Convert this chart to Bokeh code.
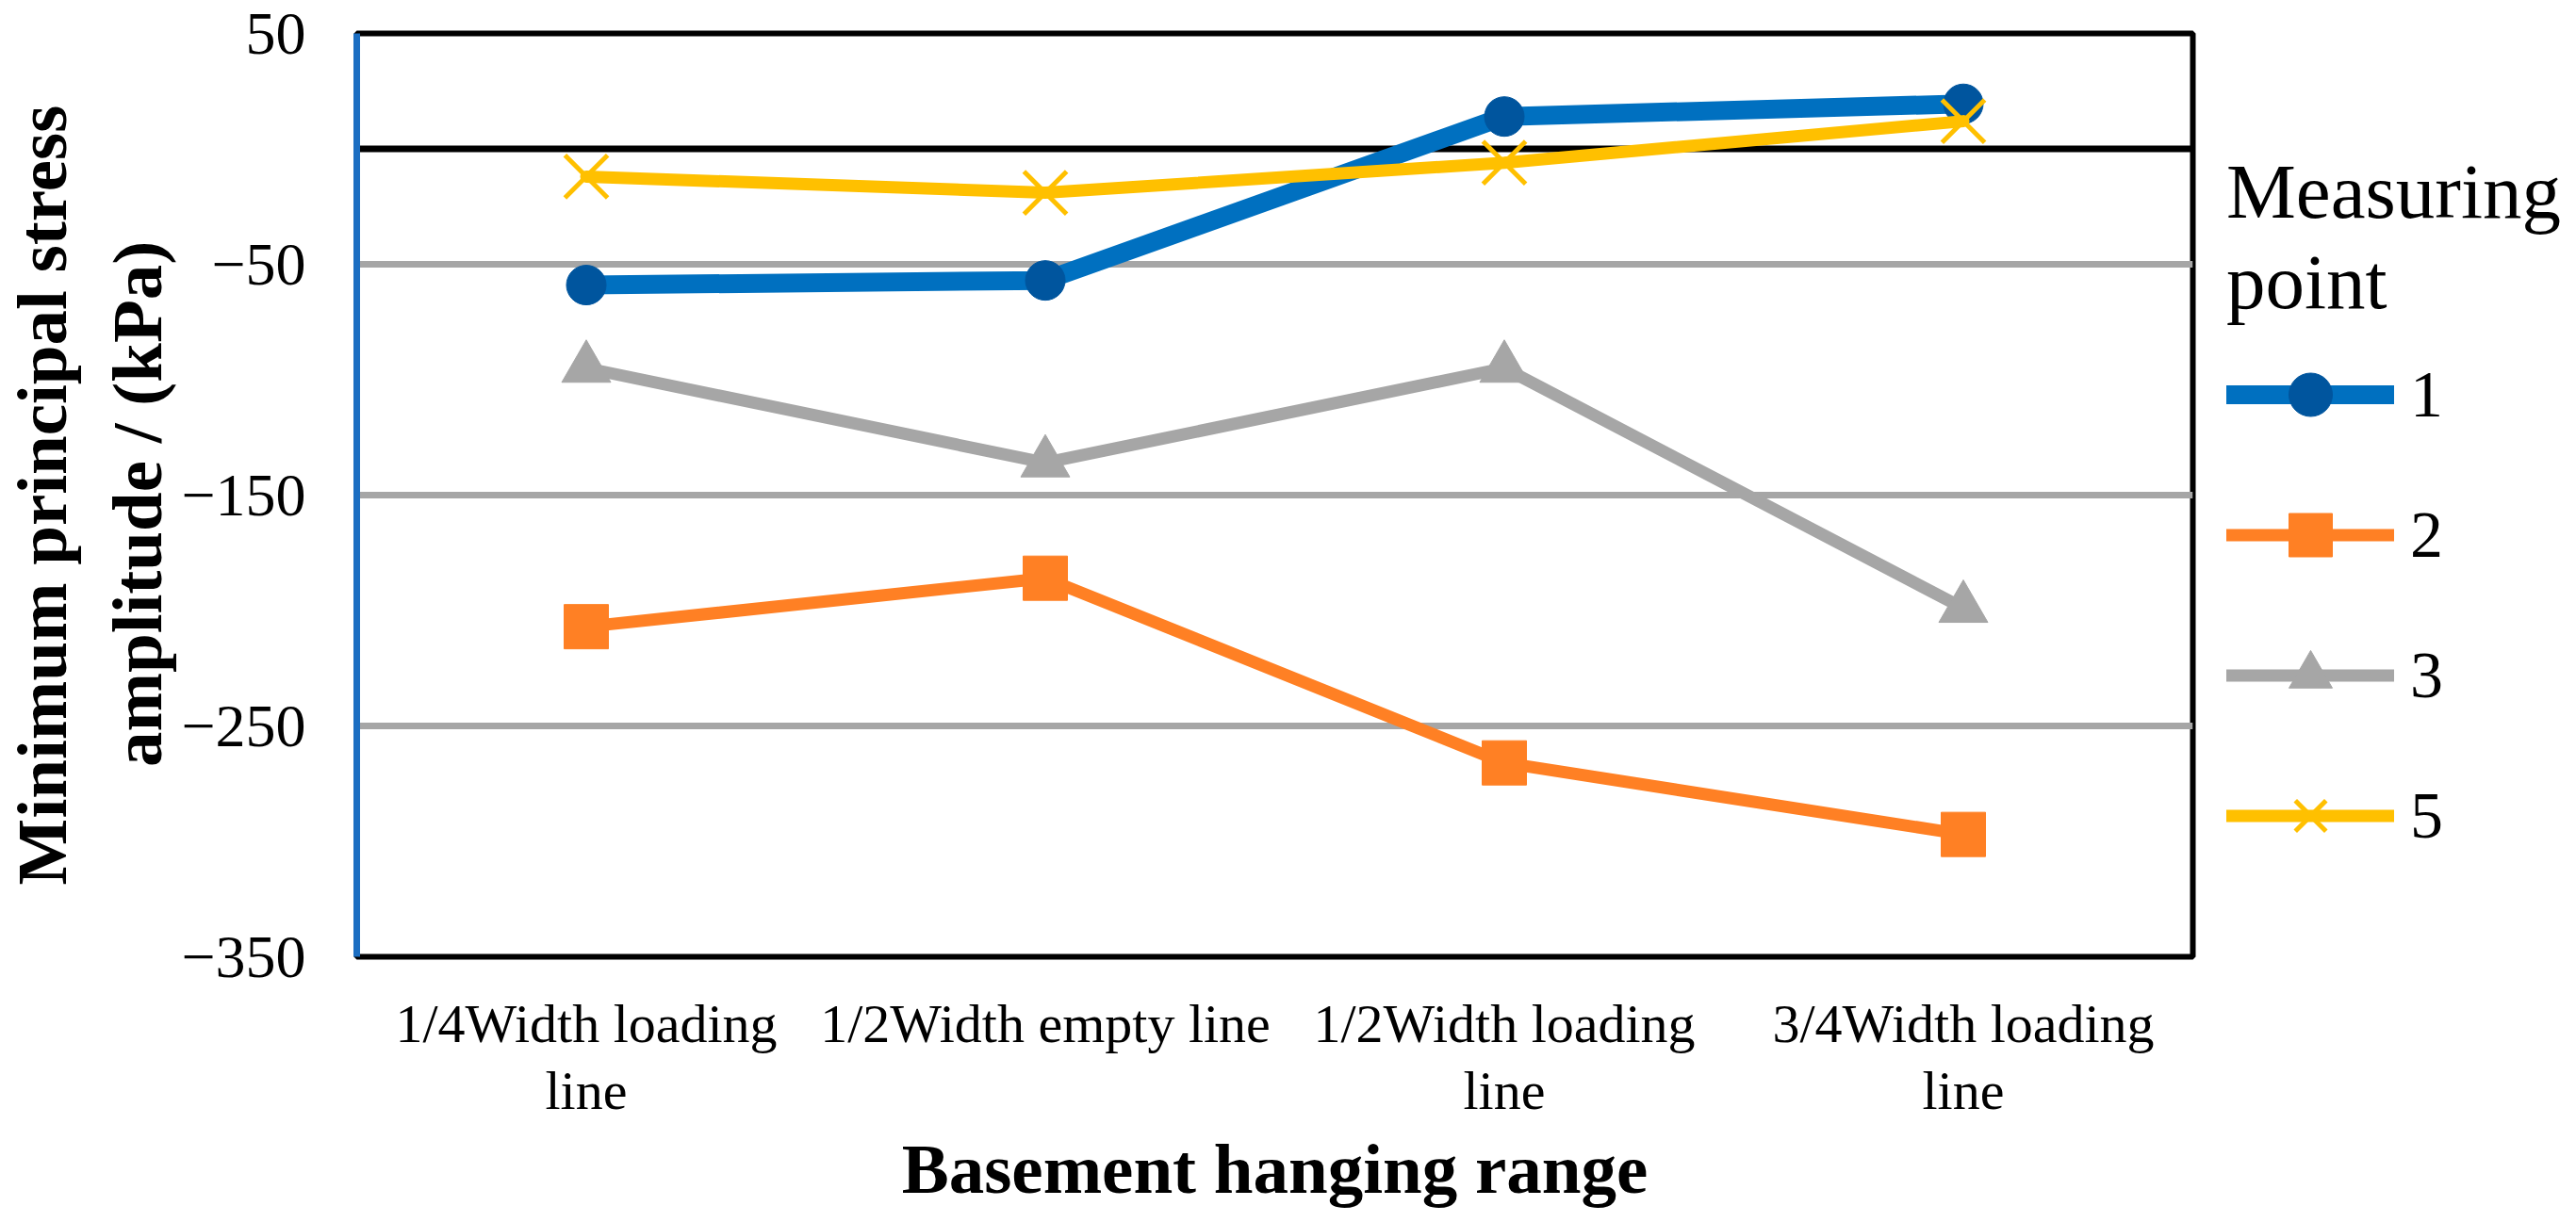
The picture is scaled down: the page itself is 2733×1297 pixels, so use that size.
from bokeh.plotting import figure
from bokeh.models import FactorRange, Range1d, FixedTicker, Span, Legend, LegendItem
from bokeh.embed import file_html
from bokeh.resources import INLINE

# ---- data ----
categories = ["1/4Width loading\nline", "1/2Width empty line",
              "1/2Width loading\nline", "3/4Width loading\nline"]
series_names = ["1", "2", "3", "5"]
mp1 = [-59, -57, 14, 19.5]
mp2 = [-207, -186, -266, -297]
mp3 = [-95, -136, -95, -199]
mp5 = [-12, -19, -6, 12]
y_ticks = [50, -50, -150, -250, -350]
y_tick_labels = ["50", "\u221250", "\u2212150", "\u2212250", "\u2212350"]
legend_title = "Measuring\npoint"

FONT = "Liberation Serif"

p = figure(x_range=FactorRange(*categories), y_range=Range1d(-350, 50),
           frame_width=1948, frame_height=980,
           min_border_left=360, min_border_right=395,
           min_border_top=35, min_border_bottom=250,
           output_backend="svg", toolbar_location=None)
p.background_fill_color = "white"
p.border_fill_color = "white"
p.outline_line_color = "black"
p.outline_line_width = 6

# y axis
p.yaxis.ticker = FixedTicker(ticks=y_ticks)
p.yaxis.major_label_overrides = dict(zip(y_ticks, y_tick_labels))
p.yaxis.axis_line_color = "#1B6EC2"
p.yaxis.axis_line_width = 7
p.yaxis.major_tick_line_color = None
p.yaxis.minor_tick_line_color = None
p.yaxis.major_label_standoff = 48
p.yaxis.major_label_text_font = FONT
p.yaxis.major_label_text_font_size = "64px"
p.yaxis.major_label_text_color = "black"
p.yaxis.axis_label = "Minimum principal stress\namplitude /  (kPa)"
p.yaxis.axis_label_text_font = FONT
p.yaxis.axis_label_text_font_style = "bold"
p.yaxis.axis_label_text_font_size = "75px"
p.yaxis.axis_label_text_line_height = 1.22
p.yaxis.axis_label_text_color = "black"
p.yaxis.axis_label_standoff = 2

# x axis
p.xaxis.axis_line_color = None
p.xaxis.major_tick_line_color = None
p.xaxis.minor_tick_line_color = None
p.xaxis.major_label_standoff = 32
p.xaxis.major_label_text_font = FONT
p.xaxis.major_label_text_font_size = "58px"
p.xaxis.major_label_text_color = "black"
p.xaxis.major_label_text_line_height = 1.1
p.xaxis.axis_label = "Basement hanging range"
p.xaxis.axis_label_text_font = FONT
p.xaxis.axis_label_text_font_style = "bold"
p.xaxis.axis_label_text_font_size = "75px"
p.xaxis.axis_label_text_color = "black"
p.xaxis.axis_label_standoff = 6

p.xgrid.visible = False
p.ygrid.grid_line_color = "#A6A6A6"
p.ygrid.grid_line_width = 7

p.add_layout(Span(location=0, dimension="width", line_color="black",
                  line_width=7, level="underlay"))

styles = [
    dict(vals=mp1, color="#0070C0", lw=20, marker="circle", mcolor="#00559E", size=42),
    dict(vals=mp2, color="#FF8024", lw=13, marker="square", mcolor="#FF8024", size=47),
    dict(vals=mp3, color="#A6A6A6", lw=13, marker="triangle", mcolor="#A6A6A6", size=52),
    dict(vals=mp5, color="#FFC000", lw=13, marker="x", mcolor="#FFC000", size=64),
]

items = []
for name, s in zip(series_names, styles):
    lr = p.line(categories, s["vals"], line_color=s["color"], line_width=s["lw"],
                line_join="round", line_cap="round")
    if s["marker"] == "x":
        sr = p.scatter(categories, s["vals"], marker="x", size=s["size"],
                       line_color=s["mcolor"], line_width=5)
    else:
        sr = p.scatter(categories, s["vals"], marker=s["marker"], size=s["size"],
                       fill_color=s["mcolor"], line_color=s["mcolor"])
    items.append(LegendItem(label=name, renderers=[lr, sr]))

legend = Legend(items=items, location=(36, 92), orientation="vertical",
                title=legend_title,
                title_text_font=FONT, title_text_font_size="83px",
                title_text_font_style="normal", title_text_line_height=1.12,
                title_text_color="black", title_standoff=14,
                glyph_width=178, glyph_height=115, spacing=34,
                label_standoff=17, padding=0, margin=0,
                border_line_color=None, background_fill_alpha=0,
                label_text_font=FONT, label_text_font_size="70px",
                label_text_color="black")
p.add_layout(legend, "right")

open("out.html", "w").write(file_html(p, INLINE))
